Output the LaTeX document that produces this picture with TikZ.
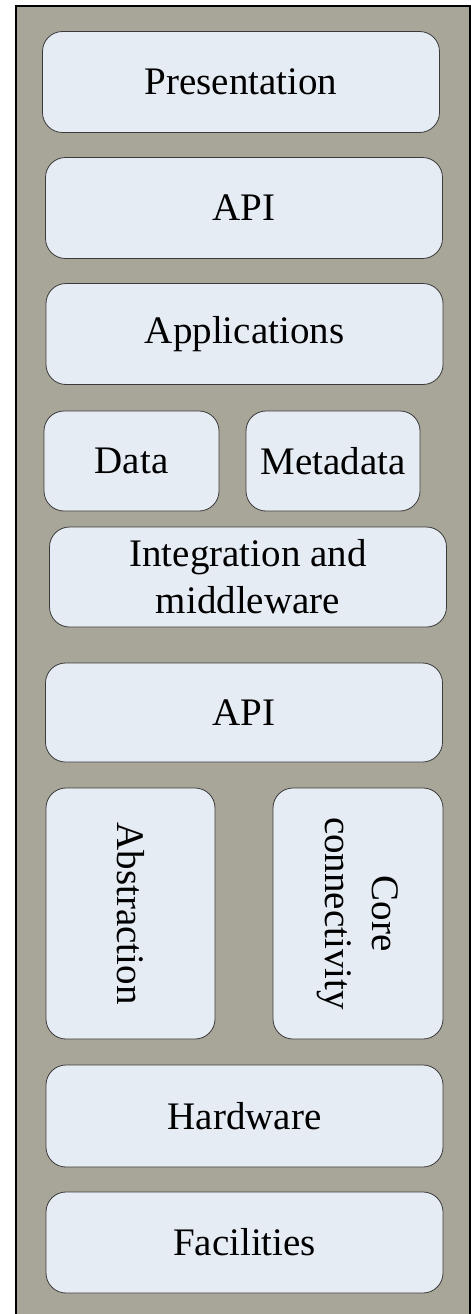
\documentclass[tikz,border=0pt]{standalone}
\usepackage{fontspec}
\setmainfont{Liberation Serif}
\usepackage{tikz}
\usetikzlibrary{positioning}
\definecolor{stackgray}{HTML}{A8A599}
\definecolor{layerblue}{HTML}{E6ECF4}
\definecolor{layeredge}{HTML}{3A3A3A}

\begin{document}
\begin{tikzpicture}[x=1pt, y=-1pt,
  layer/.style={draw=layeredge, fill=layerblue, line width=0.8pt, rounded corners=20pt, inner sep=0pt,
    align=center, minimum width=397pt, minimum height=101pt, font=\fontsize{39}{47}\selectfont}]
\useasboundingbox (0,0) rectangle (471,1314);
\clip (0,0) rectangle (471,1314);
\draw[fill=stackgray, line width=1.2pt] (16,6) rectangle (470,1340);

\node[layer] (presentation) at (241,82) {Presentation};
\node[layer] (topapi) at (244,208) {API};
\node[layer] (applications) at (244.5,334) {Applications};

\node[layer, minimum width=175pt, minimum height=100pt] (data) at (131.5,461) {Data};
\node[layer, minimum width=174pt, minimum height=100pt] (metadata) at (333,461) {Metadata};
\node[layer, minimum height=100pt] (integration) at (248,577) {Integration and\\middleware};
\node[layer, minimum height=99pt] (lowapi) at (244,712.5) {API};

\node[layer, rotate=-90, minimum width=251pt, minimum height=169pt] (abstraction) at (130.5,913.5) {Abstraction};
\node[layer, rotate=-90, minimum width=251pt, minimum height=170pt] (core) at (358,913.5) {Core\\connectivity};

\node[layer, minimum height=102pt] (hardware) at (244.5,1116) {Hardware};
\node[layer] (facilities) at (244.5,1242.5) {Facilities};
\end{tikzpicture}
\end{document}
